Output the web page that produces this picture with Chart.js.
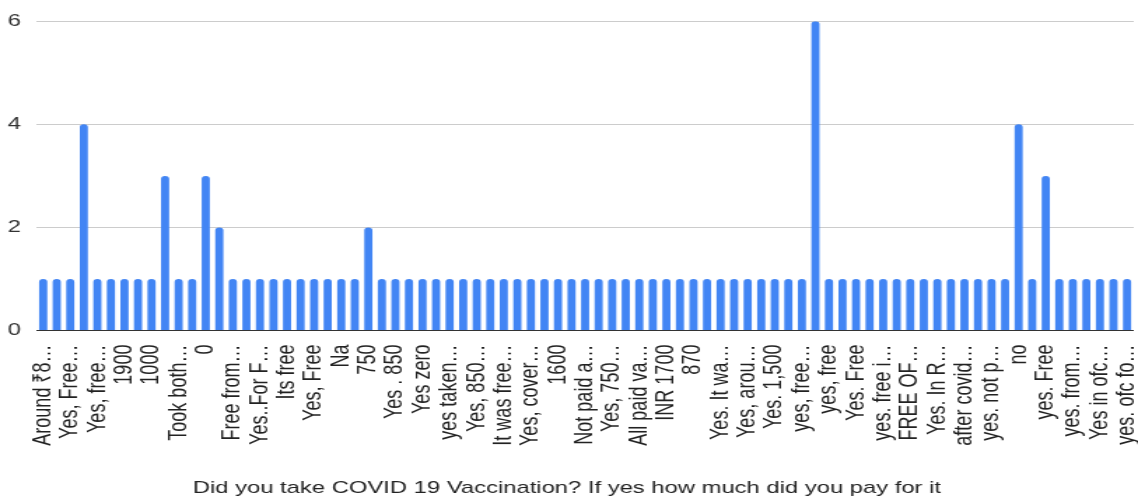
<!DOCTYPE html>
<html>
<head>
<meta charset="utf-8">
<script src="https://cdn.jsdelivr.net/npm/chart.js@4/dist/chart.umd.min.js"></script>
<style>
  html, body { margin: 0; padding: 0; background: #ffffff; overflow: hidden; }
  /* the chart is drawn on a narrower canvas and widened to the full window */
  #wrap { width: 813px; height: 501px; transform: scaleX(1.39975); transform-origin: 0 0; }
  canvas { display: block; }
</style>
</head>
<body>
<div id="wrap"><canvas id="chart" width="813" height="501"></canvas></div>
<script>
// Survey answers (as shown on the axis, truncated the way the sheet shows them)
const categories = [
  "Around ₹8…", "Yes, free", "Yes, Free…", "Free", "Yes, free…", "Yes, 780",
  "1900", "1500", "1000", "Yes", "Took both…", "Yes, 250",
  "0", "No", "Free from…", "Yes, zero", "Yes..For F…", "Yes, 1200",
  "Its free", "Yes 0", "Yes, Free", "780", "Na", "Yes. Free of cost",
  "750", "Yes, 800", "Yes . 850", "Yes, paid by office", "Yes zero", "1200",
  "yes taken…", "Yes, 1,200", "Yes, 850…", "Nil", "It was free…", "Yes, 1410",
  "Yes, cover…", "Yes, Free of cost", "1600", "Nothing", "Not paid a…", "Yes, 1500",
  "Yes, 750…", "Yes, govt free", "All paid va…", "Yes, 600", "INR 1700", "Yes, Rs 780",
  "870", "Yes. Nothing", "Yes. It wa…", "Free of cost", "Yes, arou…", "Yes, 2000",
  "Yes. 1,500", "Yes. 800", "yes, free…", "yes", "yes, free", "yes, 0",
  "Yes. Free", "Yes. 780", "yes. free i…", "Zero", "FREE OF…", "yes. 1400",
  "Yes. In R…", "Yes. Nil", "after covid…", "yes. 250", "yes. not p…", "free",
  "no", "Yes. No", "yes. Free", "yes. 1,000", "yes. from…", "Yes free",
  "Yes in ofc…", "yes. 900", "yes. ofc fo…"
];

// Number of responses for each answer
const counts = [
  1, 1, 1, 4, 1, 1, 1, 1, 1, 3,
  1, 1, 3, 2, 1, 1, 1, 1, 1, 1,
  1, 1, 1, 1, 2, 1, 1, 1, 1, 1,
  1, 1, 1, 1, 1, 1, 1, 1, 1, 1,
  1, 1, 1, 1, 1, 1, 1, 1, 1, 1,
  1, 1, 1, 1, 1, 1, 1, 6, 1, 1,
  1, 1, 1, 1, 1, 1, 1, 1, 1, 1,
  1, 1, 4, 1, 3, 1, 1, 1, 1, 1,
  1
];

const yMin = 0;
const yMax = 6;
const yStep = 2;
const axisTitle = "Did you take COVID 19 Vaccination? If yes how much did you pay for it";

Chart.defaults.font.family = "'Liberation Sans', Arial, sans-serif";

new Chart(document.getElementById('chart'), {
  type: 'bar',
  data: {
    labels: categories,
    datasets: [{
      data: counts,
      backgroundColor: '#4285f4',
      borderRadius: 3,
      barPercentage: 0.6,
      categoryPercentage: 1
    }]
  },
  options: {
    responsive: false,
    animation: false,
    devicePixelRatio: 1,
    layout: { padding: { top: 18, right: 3, bottom: 2, left: 0 } },
    plugins: {
      legend: { display: false },
      tooltip: { enabled: false },
      // question text, centred under the whole chart
      title: {
        display: true,
        position: 'bottom',
        text: axisTitle,
        color: '#222222',
        font: { size: 17, weight: 'normal' },
        padding: 0
      }
    },
    scales: {
      x: {
        grid: { display: false },
        border: { display: false },
        ticks: {
          autoSkip: false,
          minRotation: 90,
          maxRotation: 90,
          padding: 6,
          color: '#222222',
          font: { size: 18 },
          callback: (value, index) => (index % 2 === 0 ? categories[index] : '')
        },
        afterFit: (scale) => {
          scale.height = 148;
          scale.paddingLeft = 0;
          scale.paddingRight = 0;
        }
      },
      y: {
        min: yMin,
        max: yMax,
        ticks: { stepSize: yStep, padding: 11, color: '#333333', font: { size: 17 } },
        grid: {
          drawTicks: false,
          color: (ctx) => (ctx.tick && ctx.tick.value === 0 ? '#333333' : '#cccccc')
        },
        border: { display: false },
        afterFit: (scale) => { scale.width = 26; }
      }
    }
  }
});
</script>
</body>
</html>
